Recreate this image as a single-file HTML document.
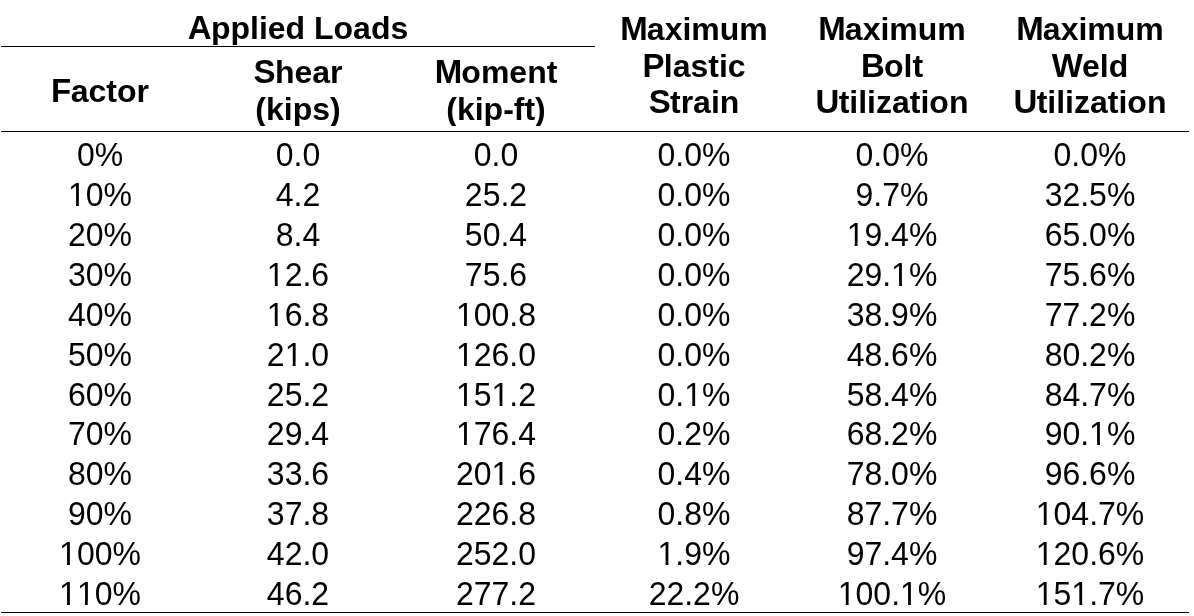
<!DOCTYPE html>
<html><head><meta charset="utf-8"><title>Applied Loads Table</title>
<style>
html,body{margin:0;padding:0;background:#fff;}
body{width:1194px;height:616px;position:relative;overflow:hidden;font-family:"Liberation Sans",Arial,sans-serif;color:#000;font-kerning:none;}
#w{position:absolute;left:0;top:0;width:1194px;height:616px;will-change:transform;}
.r,.b{position:absolute;width:300px;font-size:32px;line-height:40px;height:40px;text-align:center;white-space:nowrap;}
.b{font-weight:bold;}
.r{transform:scaleY(1.0455);transform-origin:0 31px;}
.fA::first-letter{font-size:33px;letter-spacing:-0.722px;}
.fF::first-letter{font-size:33px;letter-spacing:-0.611px;}
.fS::first-letter{font-size:33px;letter-spacing:-0.667px;}
.fM::first-letter{font-size:33px;letter-spacing:-0.833px;}
.fP::first-letter{font-size:33px;letter-spacing:-0.667px;}
.fB::first-letter{font-size:33px;letter-spacing:-0.722px;}
.fW::first-letter{font-size:33px;letter-spacing:-0.944px;}
.fU::first-letter{font-size:33px;letter-spacing:-0.722px;}
.ln{position:absolute;height:1px;background:#000;}
#ov{position:absolute;left:0;top:0;}
.cd{clip-path:inset(0 0 3px 0);}
</style></head><body><div id="w">
<div class="ln" style="left:1px;top:46px;width:594px"></div>
<div class="ln" style="left:1px;top:131px;width:1188px"></div>
<div class="ln" style="left:1px;top:612px;width:1188px"></div>
<div class="b cd fA" style="left:148px;top:8px">Applied Loads</div>
<div class="b fF" style="left:-50px;top:71px">Factor</div>
<div class="b fS" style="left:148px;top:52px">Shear</div>
<div class="b cd" style="left:148px;top:89px">(kips)</div>
<div class="b fM" style="left:346px;top:52px">Moment</div>
<div class="b cd" style="left:346px;top:89px">(kip-ft)</div>
<div class="b fM" style="left:544px;top:9px">Maximum</div>
<div class="b fP" style="left:544px;top:46px">Plastic</div>
<div class="b fS" style="left:544px;top:82px">Strain</div>
<div class="b fM" style="left:742px;top:9px">Maximum</div>
<div class="b fB" style="left:742px;top:46px">Bolt</div>
<div class="b fU" style="left:742px;top:82px">Utilization</div>
<div class="b fM" style="left:940px;top:9px">Maximum</div>
<div class="b fW" style="left:940px;top:46px">Weld</div>
<div class="b fU" style="left:940px;top:82px">Utilization</div>
<div class="r" style="left:-50px;top:135px">0%</div>
<div class="r" style="left:148px;top:135px">0.0</div>
<div class="r" style="left:346px;top:135px">0.0</div>
<div class="r" style="left:544px;top:135px">0.0%</div>
<div class="r" style="left:742px;top:135px">0.0%</div>
<div class="r" style="left:940px;top:135px">0.0%</div>
<div class="r" style="left:-50px;top:175px">10%</div>
<div class="r" style="left:148px;top:175px">4.2</div>
<div class="r" style="left:346px;top:175px">25.2</div>
<div class="r" style="left:544px;top:175px">0.0%</div>
<div class="r" style="left:742px;top:175px">9.7%</div>
<div class="r" style="left:940px;top:175px">32.5%</div>
<div class="r" style="left:-50px;top:215px">20%</div>
<div class="r" style="left:148px;top:215px">8.4</div>
<div class="r" style="left:346px;top:215px">50.4</div>
<div class="r" style="left:544px;top:215px">0.0%</div>
<div class="r" style="left:742px;top:215px">19.4%</div>
<div class="r" style="left:940px;top:215px">65.0%</div>
<div class="r" style="left:-50px;top:255px">30%</div>
<div class="r" style="left:148px;top:255px">12.6</div>
<div class="r" style="left:346px;top:255px">75.6</div>
<div class="r" style="left:544px;top:255px">0.0%</div>
<div class="r" style="left:742px;top:255px">29.1%</div>
<div class="r" style="left:940px;top:255px">75.6%</div>
<div class="r" style="left:-50px;top:295px">40%</div>
<div class="r" style="left:148px;top:295px">16.8</div>
<div class="r" style="left:346px;top:295px">100.8</div>
<div class="r" style="left:544px;top:295px">0.0%</div>
<div class="r" style="left:742px;top:295px">38.9%</div>
<div class="r" style="left:940px;top:295px">77.2%</div>
<div class="r" style="left:-50px;top:335px">50%</div>
<div class="r" style="left:148px;top:335px">21.0</div>
<div class="r" style="left:346px;top:335px">126.0</div>
<div class="r" style="left:544px;top:335px">0.0%</div>
<div class="r" style="left:742px;top:335px">48.6%</div>
<div class="r" style="left:940px;top:335px">80.2%</div>
<div class="r" style="left:-50px;top:375px">60%</div>
<div class="r" style="left:148px;top:375px">25.2</div>
<div class="r" style="left:346px;top:375px">151.2</div>
<div class="r" style="left:544px;top:375px">0.1%</div>
<div class="r" style="left:742px;top:375px">58.4%</div>
<div class="r" style="left:940px;top:375px">84.7%</div>
<div class="r" style="left:-50px;top:414px">70%</div>
<div class="r" style="left:148px;top:414px">29.4</div>
<div class="r" style="left:346px;top:414px">176.4</div>
<div class="r" style="left:544px;top:414px">0.2%</div>
<div class="r" style="left:742px;top:414px">68.2%</div>
<div class="r" style="left:940px;top:414px">90.1%</div>
<div class="r" style="left:-50px;top:454px">80%</div>
<div class="r" style="left:148px;top:454px">33.6</div>
<div class="r" style="left:346px;top:454px">201.6</div>
<div class="r" style="left:544px;top:454px">0.4%</div>
<div class="r" style="left:742px;top:454px">78.0%</div>
<div class="r" style="left:940px;top:454px">96.6%</div>
<div class="r" style="left:-50px;top:494px">90%</div>
<div class="r" style="left:148px;top:494px">37.8</div>
<div class="r" style="left:346px;top:494px">226.8</div>
<div class="r" style="left:544px;top:494px">0.8%</div>
<div class="r" style="left:742px;top:494px">87.7%</div>
<div class="r" style="left:940px;top:494px">104.7%</div>
<div class="r" style="left:-50px;top:534px">100%</div>
<div class="r" style="left:148px;top:534px">42.0</div>
<div class="r" style="left:346px;top:534px">252.0</div>
<div class="r" style="left:544px;top:534px">1.9%</div>
<div class="r" style="left:742px;top:534px">97.4%</div>
<div class="r" style="left:940px;top:534px">120.6%</div>
<div class="r" style="left:-50px;top:574px">110%</div>
<div class="r" style="left:148px;top:574px">46.2</div>
<div class="r" style="left:346px;top:574px">277.2</div>
<div class="r" style="left:544px;top:574px">22.2%</div>
<div class="r" style="left:742px;top:574px">100.1%</div>
<div class="r" style="left:940px;top:574px">151.7%</div>
<svg id="ov" width="1194" height="616" viewBox="0 0 1194 616"><g fill="#fff"><rect x="69.569" y="202.601" width="6.447" height="3.999"/><rect x="78.844" y="202.601" width="6.259" height="3.999"/><rect x="848.225" y="242.601" width="6.447" height="3.999"/><rect x="857.500" y="242.601" width="6.259" height="3.999"/><rect x="268.459" y="282.601" width="6.447" height="3.999"/><rect x="277.734" y="282.601" width="6.259" height="3.999"/><rect x="892.709" y="282.601" width="6.447" height="3.999"/><rect x="901.984" y="282.601" width="6.259" height="3.999"/><rect x="268.459" y="322.601" width="6.447" height="3.999"/><rect x="277.734" y="322.601" width="6.259" height="3.999"/><rect x="457.553" y="322.601" width="6.447" height="3.999"/><rect x="466.828" y="322.601" width="6.259" height="3.999"/><rect x="286.256" y="362.601" width="6.447" height="3.999"/><rect x="295.531" y="362.601" width="6.259" height="3.999"/><rect x="457.553" y="362.601" width="6.447" height="3.999"/><rect x="466.828" y="362.601" width="6.259" height="3.999"/><rect x="457.553" y="402.601" width="6.447" height="3.999"/><rect x="466.828" y="402.601" width="6.259" height="3.999"/><rect x="493.147" y="402.601" width="6.447" height="3.999"/><rect x="502.422" y="402.601" width="6.259" height="3.999"/><rect x="685.819" y="402.601" width="6.447" height="3.999"/><rect x="695.094" y="402.601" width="6.259" height="3.999"/><rect x="457.553" y="441.601" width="6.447" height="3.999"/><rect x="466.828" y="441.601" width="6.259" height="3.999"/><rect x="1090.709" y="441.601" width="6.447" height="3.999"/><rect x="1099.984" y="441.601" width="6.259" height="3.999"/><rect x="493.147" y="481.601" width="6.447" height="3.999"/><rect x="502.422" y="481.601" width="6.259" height="3.999"/><rect x="1037.334" y="521.601" width="6.447" height="3.999"/><rect x="1046.609" y="521.601" width="6.259" height="3.999"/><rect x="60.678" y="561.601" width="6.447" height="3.999"/><rect x="69.953" y="561.601" width="6.259" height="3.999"/><rect x="659.131" y="561.601" width="6.447" height="3.999"/><rect x="668.406" y="561.601" width="6.259" height="3.999"/><rect x="1037.334" y="561.601" width="6.447" height="3.999"/><rect x="1046.609" y="561.601" width="6.259" height="3.999"/><rect x="60.678" y="601.601" width="6.447" height="3.999"/><rect x="69.953" y="601.601" width="6.259" height="3.999"/><rect x="78.475" y="601.601" width="6.447" height="3.999"/><rect x="87.750" y="601.601" width="6.259" height="3.999"/><rect x="839.334" y="601.601" width="6.447" height="3.999"/><rect x="848.609" y="601.601" width="6.259" height="3.999"/><rect x="901.616" y="601.601" width="6.447" height="3.999"/><rect x="910.891" y="601.601" width="6.259" height="3.999"/><rect x="1037.334" y="601.601" width="6.447" height="3.999"/><rect x="1046.609" y="601.601" width="6.259" height="3.999"/><rect x="1072.928" y="601.601" width="6.447" height="3.999"/><rect x="1082.203" y="601.601" width="6.259" height="3.999"/></g></svg>
</div></body></html>
